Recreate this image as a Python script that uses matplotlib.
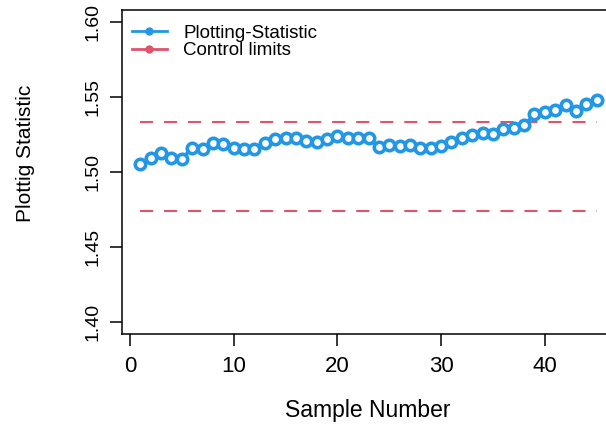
import numpy as np
import matplotlib
matplotlib.use("Agg")
import matplotlib.pyplot as plt
from matplotlib.lines import Line2D

# values
sample = np.arange(1, 46)
stat = [1.5055, 1.5095, 1.5128, 1.5095, 1.5084, 1.5162, 1.5155, 1.5195, 1.5184,
        1.5162, 1.5151, 1.5151, 1.5195, 1.5217, 1.5224, 1.5224, 1.5206, 1.5199,
        1.5217, 1.5240, 1.5229, 1.5229, 1.5224, 1.5166, 1.5179, 1.5173, 1.5179,
        1.5162, 1.5160, 1.5173, 1.5202, 1.5229, 1.5246, 1.5262, 1.5251, 1.5289,
        1.5296, 1.5311, 1.5385, 1.5400, 1.5411, 1.5445, 1.5407, 1.5452, 1.5480]
ucl = 1.5333
lcl = 1.4737
yticks = [1.40, 1.45, 1.50, 1.55, 1.60]
xticks = [0, 10, 20, 30, 40]
labels = ["Plotting-Statistic", "Control limits"]

blue = "#2297E6"
red = "#DF536B"

plt.rcParams["font.family"] = ["Liberation Sans", "DejaVu Sans"]
plt.rcParams["lines.scale_dashes"] = False

fig = plt.figure(figsize=(6.06, 4.28), dpi=100)
# right edge of the box lies outside the picture, as in the reference
ax = fig.add_axes([122 / 606, 1 - 334 / 428, (615 - 122) / 606, (334 - 10) / 428])

ax.plot(sample, stat, color=blue, lw=2.6, marker="o", ms=7.5,
        mfc="white", mec=blue, mew=2.6, zorder=3)
for lim in (ucl, lcl):
    ax.plot([sample[0], sample[-1]], [lim, lim], color=red, lw=1.5,
            dashes=(9.4, 7.9), zorder=2)

ax.set_xlim(1 - 0.04 * 44, 45 + 0.04 * 44)
ax.set_ylim(1.392, 1.608)
ax.set_xticks(xticks)
ax.set_yticks(yticks)
ax.set_yticklabels([f"{v:.2f}" for v in yticks])

for s in ax.spines.values():
    s.set_linewidth(1.1)
ax.tick_params(axis="both", direction="out", length=8.5, width=1.1)
ax.tick_params(axis="x", labelsize=16, pad=7)
ax.tick_params(axis="y", labelsize=14, pad=6, labelrotation=90)
for t in ax.get_yticklabels():
    t.set_va("center")

ax.set_xlabel("Sample Number", fontsize=16.5)
ax.xaxis.set_label_coords(0.498, -0.235)
ax.xaxis.label.set_va("center")
ax.set_ylabel("Plottig Statistic", fontsize=15)
ax.yaxis.set_label_coords(-0.196, 0.557)
ax.yaxis.label.set_va("center")

handles = [Line2D([], [], color=blue, lw=2, marker="o", ms=5),
           Line2D([], [], color=red, lw=2, marker="o", ms=5)]
ax.legend(handles, labels, loc="upper left", bbox_to_anchor=(0.02, 0.955),
          frameon=False, fontsize=13.5, borderpad=0, borderaxespad=0,
          handlelength=1.85, handletextpad=0.9, labelspacing=0.02)

fig.savefig("out.png", dpi=100)
